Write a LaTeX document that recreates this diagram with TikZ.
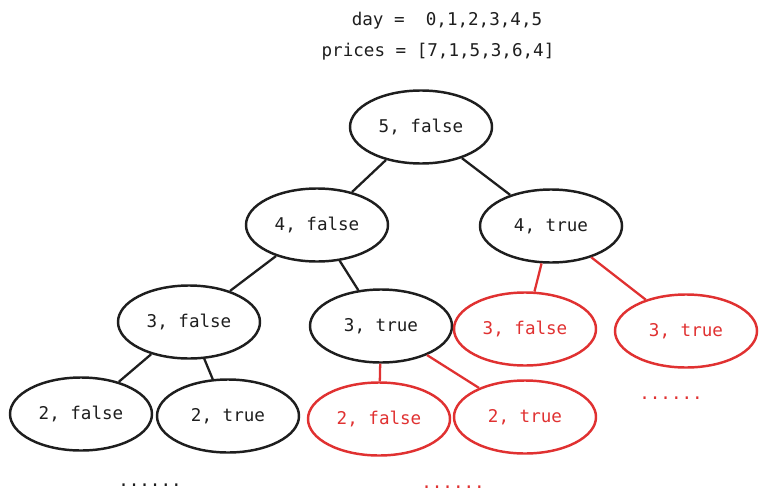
\documentclass[tikz,border=0pt]{standalone}
\usepackage{fontspec}
\setmonofont{DejaVu Sans Mono}
\usetikzlibrary{shapes.geometric}
\definecolor{inkblack}{HTML}{1E1E1E}
\definecolor{inkred}{HTML}{E03131}

\begin{document}
\begin{tikzpicture}[
    state/.style={ellipse, draw=inkblack, line width=1.4pt, minimum width=2.84cm, minimum height=1.46cm, inner sep=0pt, text=inkblack, font=\ttfamily\fontsize{10}{12}\selectfont},
    pruned/.style={state, draw=inkred, text=inkred},
    edge/.style={inkblack, line width=1.3pt},
    cut/.style={inkred, line width=1.3pt},
    lbl/.style={font=\ttfamily\fontsize{10}{12}\selectfont, text=inkblack}
]
    \useasboundingbox (0,0) rectangle (15.34,10.04);

    % Header
    \node[lbl] (day) at (8.94, 9.62) {day =\ \ 0,1,2,3,4,5};
    \node[lbl] (prices) at (8.76, 9.00) {prices = [7,1,5,3,6,4]};

    % Tree nodes
    \node[state] (n5f) at (8.42, 7.50) {5, false};
    \node[state] (n4f) at (6.34, 5.54) {4, false};
    \node[state] (n4t) at (11.02, 5.52) {4, true};
    \node[state] (n3f) at (3.78, 3.60) {3, false};
    \node[state] (n3t) at (7.62, 3.52) {3, true};
    \node[pruned] (r3f) at (10.50, 3.46) {3, false};
    \node[pruned] (r3t) at (13.72, 3.42) {3, true};
    \node[state] (n2f) at (1.62, 1.76) {2, false};
    \node[state] (n2t) at (4.56, 1.72) {2, true};
    \node[pruned] (r2f) at (7.58, 1.66) {2, false};
    \node[pruned] (r2t) at (10.50, 1.70) {2, true};

    % Dots
    \node[lbl] (more1) at (3.00, 0.34) {......};
    \node[lbl, text=inkred] (more2) at (9.06, 0.30) {......};
    \node[lbl, text=inkred] (more3) at (13.42, 2.08) {......};

    % Edges
    \draw[edge] (n5f) -- (n4f);
    \draw[edge] (n5f) -- (n4t);
    \draw[edge] (n4f) -- (n3f);
    \draw[edge] (n4f) -- (n3t);
    \draw[edge] (n3f) -- (n2f);
    \draw[edge] (n3f) -- (n2t);
    \draw[cut] (n4t) -- (r3f);
    \draw[cut] (n4t) -- (r3t);
    \draw[cut] (n3t) -- (r2f);
    \draw[cut] (n3t) -- (r2t);
\end{tikzpicture}
\end{document}
